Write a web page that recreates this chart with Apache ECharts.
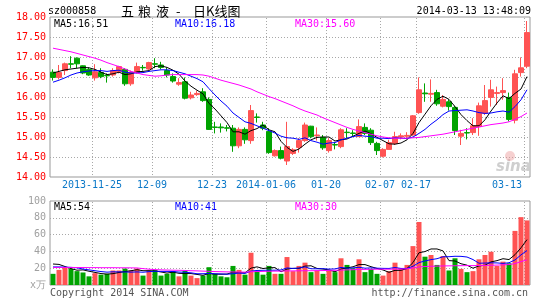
<!DOCTYPE html>
<html><head><meta charset="utf-8">
<script src="https://cdn.jsdelivr.net/npm/echarts@6/dist/echarts.min.js"></script>
<style>html,body{margin:0;padding:0;background:#fff}#c{width:545px;height:300px}</style>
</head><body><div id="c"></div>
<script>
const dates = ['2013-11-14','2013-11-15','2013-11-18','2013-11-19','2013-11-20','2013-11-21','2013-11-22','2013-11-25','2013-11-26','2013-11-27',
'2013-11-28','2013-11-29','2013-12-02','2013-12-03','2013-12-04','2013-12-05','2013-12-06','2013-12-09','2013-12-10','2013-12-11',
'2013-12-12','2013-12-13','2013-12-16','2013-12-17','2013-12-18','2013-12-19','2013-12-20','2013-12-23','2013-12-24','2013-12-25',
'2013-12-26','2013-12-27','2013-12-30','2013-12-31','2014-01-02','2014-01-03','2014-01-06','2014-01-07','2014-01-08','2014-01-09',
'2014-01-10','2014-01-13','2014-01-14','2014-01-15','2014-01-16','2014-01-17','2014-01-20','2014-01-21','2014-01-22','2014-01-23',
'2014-01-24','2014-01-27','2014-01-28','2014-01-29','2014-01-30','2014-02-07','2014-02-10','2014-02-11','2014-02-12','2014-02-13',
'2014-02-14','2014-02-17','2014-02-18','2014-02-19','2014-02-20','2014-02-21','2014-02-24','2014-02-25','2014-02-26','2014-02-27',
'2014-02-28','2014-03-03','2014-03-04','2014-03-05','2014-03-06','2014-03-07','2014-03-10','2014-03-11','2014-03-12','2014-03-13'];

const open = [16.62,16.49,16.66,16.83,16.97,16.78,16.69,16.48,16.61,16.54,16.55,16.63,16.69,16.33,16.62,16.74,16.70,16.83,16.80,16.66,
16.51,16.32,16.38,15.98,16.06,16.13,15.94,15.25,15.25,15.23,15.22,14.78,15.19,14.91,15.50,15.30,15.14,14.53,14.66,14.40,
14.59,14.74,14.91,15.27,15.03,14.99,14.66,14.81,14.76,15.12,15.10,15.01,15.24,15.17,14.84,14.52,14.69,14.84,15.00,15.02,
15.05,15.61,16.10,16.07,16.11,15.77,15.88,15.74,15.02,15.11,15.11,15.26,15.59,15.99,16.09,16.11,15.99,15.42,16.61,16.77];
const close = [16.49,16.61,16.83,16.82,16.83,16.60,16.55,16.63,16.51,16.53,16.66,16.76,16.33,16.62,16.76,16.73,16.86,16.82,16.74,16.55,
16.40,16.36,15.97,16.05,16.09,15.91,15.19,15.24,15.23,15.22,14.78,15.19,14.93,15.66,15.49,15.22,14.61,14.66,14.47,14.76,
14.68,14.91,15.30,15.01,15.05,14.73,14.91,14.80,15.18,15.11,15.09,15.26,15.09,14.86,14.66,14.69,14.86,15.01,15.03,15.04,
15.53,16.18,16.08,16.09,15.83,15.94,15.76,15.16,15.09,15.10,15.28,15.78,15.91,16.18,16.11,16.16,15.44,16.58,16.73,17.61];
const high = [16.69,16.80,16.86,17.02,16.99,16.79,16.74,16.82,16.72,16.59,16.72,16.78,16.72,16.66,16.86,16.80,16.88,16.97,16.88,16.74,
16.59,16.47,16.49,16.13,16.16,16.22,15.99,15.38,15.34,15.30,15.30,15.24,15.24,15.80,15.59,15.38,15.22,14.69,14.76,15.38,
14.72,14.97,15.36,15.28,15.24,15.05,14.97,14.88,15.22,15.22,15.17,15.44,15.34,15.22,14.88,14.72,14.93,15.13,15.09,15.12,
15.55,16.49,16.34,16.44,16.18,16.05,15.94,15.78,15.18,15.22,15.47,15.86,16.30,16.43,16.26,16.47,16.11,16.68,16.99,17.90];
const low = [16.41,16.44,16.55,16.72,16.72,16.57,16.53,16.41,16.47,16.36,16.51,16.59,16.28,16.28,16.59,16.66,16.68,16.72,16.69,16.49,
16.36,16.28,15.94,15.94,16.03,15.88,15.18,15.09,15.11,15.14,14.63,14.72,14.83,14.83,15.36,15.17,14.58,14.51,14.44,14.30,
14.55,14.61,14.88,14.97,14.91,14.68,14.61,14.69,14.72,14.97,15.01,15.00,15.05,14.80,14.55,14.49,14.69,14.80,14.94,14.97,
15.03,15.58,15.88,15.88,15.78,15.74,15.66,15.05,14.80,14.94,15.05,15.03,15.55,15.76,15.80,15.93,15.39,15.34,16.51,16.72];

const ma5 = [16.60,16.64,16.68,16.70,16.72,16.74,16.73,16.69,16.62,16.56,16.58,16.62,16.56,16.58,16.63,16.64,16.66,16.76,16.78,16.74,
16.67,16.57,16.40,16.27,16.17,16.08,15.84,15.70,15.53,15.36,15.13,15.13,15.07,15.16,15.21,15.30,15.18,15.13,14.89,14.74,
14.64,14.70,14.82,14.93,14.99,15.00,15.00,14.90,14.93,14.95,15.02,15.09,15.15,15.08,14.99,14.91,14.83,14.82,14.85,14.93,
15.09,15.36,15.57,15.78,15.94,16.02,15.94,15.76,15.56,15.41,15.28,15.28,15.43,15.65,15.85,16.03,15.96,16.09,16.20,16.51];
const ma10 = [16.37,16.42,16.48,16.55,16.60,16.63,16.65,16.66,16.66,16.64,16.66,16.67,16.62,16.60,16.60,16.61,16.64,16.66,16.68,16.68,
16.66,16.62,16.58,16.52,16.46,16.38,16.21,16.05,15.90,15.77,15.60,15.49,15.38,15.34,15.28,15.22,15.16,15.10,15.02,14.98,
14.97,14.94,14.98,14.91,14.87,14.82,14.85,14.86,14.93,14.97,15.01,15.04,15.02,15.01,14.97,14.97,14.96,14.98,14.97,14.96,
15.00,15.09,15.19,15.32,15.43,15.56,15.65,15.66,15.67,15.68,15.65,15.61,15.59,15.60,15.63,15.65,15.62,15.76,15.93,16.18];
const ma30 = [17.22,17.19,17.16,17.13,17.09,17.05,17.01,16.97,16.92,16.86,16.81,16.76,16.70,16.64,16.60,16.56,16.54,16.52,16.53,16.55,
16.56,16.56,16.56,16.56,16.56,16.55,16.52,16.47,16.42,16.38,16.34,16.30,16.25,16.20,16.13,16.07,16.01,15.96,15.90,15.84,
15.78,15.71,15.65,15.60,15.55,15.48,15.42,15.36,15.30,15.24,15.19,15.15,15.11,15.07,15.03,15.00,14.98,14.97,14.97,14.97,
14.98,14.99,15.01,15.03,15.05,15.07,15.10,15.13,15.16,15.19,15.22,15.25,15.28,15.31,15.33,15.35,15.38,15.44,15.51,15.60];

const volume = [13.3,18,21.2,19.2,16.5,14.9,10.3,14.1,12.3,13.3,17.3,17.3,19.6,17.3,19.6,11.2,17.3,18,11.2,13.3,
16.5,10.3,16.8,11.2,8.2,11.2,21.2,13.3,10.3,9.2,22.7,18,12.3,38.4,16.8,12.3,22.7,13.3,13.3,33.3,
16.5,22.7,26.6,15.3,17.3,13.3,17.3,15.3,31.8,23.9,20,30.6,15.3,19.2,13.3,11.2,16.5,26.6,20,23.9,
46.3,75,33.7,35.7,23.9,34.5,17.3,31.8,19.2,15.3,16.5,30.6,35.7,39.6,22.7,27.8,25.9,64.4,80.8,76.9];
const volMa5 = [25,24.5,22,19.5,17.6,18.0,16.4,15.0,13.6,13.0,13.5,14.9,16.0,17.0,18.2,17.0,17.0,16.7,15.5,14.2,
15.3,13.9,13.6,13.6,12.6,11.5,13.7,13.0,12.8,13.0,15.3,14.7,14.5,20.1,21.6,19.6,20.5,20.7,15.7,19.0,
19.8,19.8,22.5,22.9,19.7,19.0,18.0,15.7,19.0,20.3,21.7,24.3,24.3,21.8,19.7,17.9,15.1,17.4,17.5,19.6,
26.7,38.4,39.8,42.9,42.9,40.6,29.0,28.6,25.3,23.6,20.0,22.7,23.5,27.5,29.0,31.3,30.3,36.1,44.3,54];
const volMa10 = [21.5,21.5,21.3,21.0,20.5,19.0,18.0,17.0,16.0,15.3,15.7,15.6,15.5,15.3,15.6,15.2,15.9,16.3,16.2,16.2,
16.1,15.4,15.2,14.5,13.4,13.4,13.8,13.3,13.2,12.8,13.4,14.2,13.8,16.5,17.3,17.5,17.6,17.6,17.9,20.3,
19.7,20.2,21.6,19.3,19.3,19.4,18.9,19.1,20.9,20.0,20.4,21.1,20.0,20.4,20.0,19.8,19.7,20.8,19.7,19.7,
22.3,26.7,28.6,30.2,31.3,33.6,33.7,34.2,34.1,33.3,30.3,25.9,26.1,26.4,26.3,25.7,26.5,29.8,35.9,41.0];
const volMa30 = [20.8,20.8,20.9,20.9,20.8,20.8,20.7,20.7,20.6,20.6,20.6,20.5,20.5,20.4,20.3,19.5,18.8,18.3,18.0,17.8,
17.6,17.5,17.3,17.0,16.8,16.5,16.3,16.0,15.8,15.6,15.5,15.4,15.3,15.8,16.0,16.2,16.4,16.5,16.5,16.8,
16.8,16.9,17.0,17.0,17.1,17.2,17.4,17.5,17.8,18.0,18.2,18.5,18.6,18.7,18.8,18.8,18.8,18.9,19.0,19.3,
20.2,21.6,22.0,22.3,22.5,22.7,22.8,22.9,23.0,23.1,23.1,23.2,23.3,23.5,23.7,24.0,24.3,25.5,27.8,30.0];

const tickDates = ['2013-11-25','2013-12-09','2013-12-23','2014-01-06','2014-01-20','2014-02-07','2014-02-17','2014-03-13'];
const tickLabels = ['2013-11-25','12-09','12-23','2014-01-06','01-20','02-07','02-17','03-13'];
const priceTicks = [14, 14.5, 15, 15.5, 16, 16.5, 17, 17.5, 18];
const volTicks = [0, 20, 40, 60, 80, 100];

const UP = '#ff5353', DOWN = '#00a300';
const MONO = '"DejaVu Sans Mono", "Liberation Mono", monospace';
const DATE_C = '#0a78c8';
const GRIDC = '#a8a8a8';
const showTick = (idx, v) => tickDates.indexOf(v) >= 0;

const chart = echarts.init(document.getElementById('c'), null, {renderer: 'canvas'});
const lineS = (name, data, color, xi, yi) => ({
  name, type: 'line', data, xAxisIndex: xi, yAxisIndex: yi, symbol: 'none', smooth: false,
  lineStyle: {color, width: 1}, itemStyle: {color}, z: 5, silent: true
});
// dotted vertical grid lines at the left edge of each labelled date's candle (drawn as 1px dots)
const vDots = (xi, yi, y0, y1) => ({
  type: 'custom', xAxisIndex: xi, yAxisIndex: yi, silent: true, z: 1, clip: false,
  data: tickDates.map(d => [dates.indexOf(d), y0]),
  renderItem: function (params, api) {
    const i = api.value(0);
    const a = api.coord([i, y0]);
    const b = api.coord([i, y1]);
    const p = api.coord([i - 1, y0]);
    const x = Math.round(a[0] - (a[0] - p[0]) / 2);
    const top = Math.round(Math.min(a[1], b[1])) + 1, bottom = Math.round(Math.max(a[1], b[1]));
    const children = [];
    for (let y = top; y < bottom; y += 3) {
      children.push({type: 'rect', shape: {x: x, y: y, width: 1, height: 1}, style: {fill: GRIDC}});
    }
    return {type: 'group', children};
  }
});
const txt = (x, y, text, fill, font, align) => ({
  type: 'text', x, y, silent: true,
  style: {text, fill, font, align: align || 'left', verticalAlign: 'middle'}
});

chart.setOption({
  animation: false,
  backgroundColor: '#fff',
  grid: [
    {left: 50, right: 15, top: 17, height: 160, show: true, borderColor: '#999', borderWidth: 1},
    {left: 50, right: 15, top: 201, height: 84, show: true, borderColor: '#999', borderWidth: 1}
  ],
  xAxis: [
    {type: 'category', gridIndex: 0, data: dates, boundaryGap: true,
     axisLine: {show: false}, axisTick: {show: false},
     axisLabel: {interval: showTick, margin: 3, fontFamily: MONO, fontSize: 10, color: DATE_C,
       formatter: v => { const k = tickDates.indexOf(v); if (k < 0) return ''; return (k === tickDates.length - 1 ? '{e|' : '{a|') + tickLabels[k] + '}'; },
       rich: {a: {padding: [0, 6, 0, 0], fontFamily: MONO, fontSize: 10, color: DATE_C},
              e: {padding: [0, 40, 0, 0], fontFamily: MONO, fontSize: 10, color: DATE_C}}},
     splitLine: {show: false}},
    {type: 'category', gridIndex: 1, data: dates, boundaryGap: true,
     axisLine: {show: false}, axisTick: {show: false}, axisLabel: {show: false},
     splitLine: {show: false}}
  ],
  yAxis: [
    {type: 'value', gridIndex: 0, min: priceTicks[0], max: priceTicks[priceTicks.length - 1], interval: 0.5,
     axisLine: {show: false}, axisTick: {show: false},
     axisLabel: {color: '#ff0000', fontFamily: MONO, fontSize: 10, margin: 4, formatter: v => v.toFixed(2)},
     splitLine: {show: true, showMinLine: false, showMaxLine: false, lineStyle: {color: GRIDC, type: [1, 2]}}},
    {type: 'value', gridIndex: 1, min: volTicks[0], max: volTicks[volTicks.length - 1], interval: 20,
     axisLine: {show: false}, axisTick: {show: false},
     axisLabel: {color: '#a0a0a0', fontFamily: MONO, fontSize: 10, margin: 4, formatter: v => v === 0 ? 'x万' : String(v)},
     splitLine: {show: true, showMinLine: false, showMaxLine: false, lineStyle: {color: GRIDC, type: [1, 2]}}}
  ],
  series: [
    vDots(0, 0, priceTicks[0], priceTicks[priceTicks.length - 1]),
    vDots(1, 1, volTicks[0], volTicks[volTicks.length - 1]),
    {name: 'K', type: 'candlestick', xAxisIndex: 0, yAxisIndex: 0, barWidth: 5,
     data: dates.map((d, i) => [open[i], close[i], low[i], high[i]]),
     itemStyle: {color: UP, color0: DOWN, borderColor: UP, borderColor0: DOWN, borderWidth: 1}, z: 3, silent: true},
    lineS('MA5', ma5, '#000000', 0, 0),
    lineS('MA10', ma10, '#0000ff', 0, 0),
    lineS('MA30', ma30, '#ff00ff', 0, 0),
    {name: 'VOL', type: 'bar', xAxisIndex: 1, yAxisIndex: 1, barWidth: 5, z: 3, silent: true,
     data: volume.map((v, i) => ({value: v, itemStyle: {color: close[i] > open[i] ? UP : DOWN}}))},
    lineS('VMA5', volMa5, '#000000', 1, 1),
    lineS('VMA10', volMa10, '#0000ff', 1, 1),
    lineS('VMA30', volMa30, '#ff00ff', 1, 1)
  ],
  graphic: [
    txt(48, 11, 'sz000858', '#000', '10px ' + MONO),
    txt(121, 11, '五', '#000', '13px "Noto Sans CJK SC"'),
    txt(138, 11, '粮', '#000', '13px "Noto Sans CJK SC"'),
    txt(156, 11, '液', '#000', '13px "Noto Sans CJK SC"'),
    txt(176, 11, '-', '#000', '13px "Noto Sans CJK SC"'),
    txt(193, 11, '日K线图', '#000', '13px "Noto Sans CJK SC"'),
    txt(531, 11, '2014-03-13 13:48:09', '#000', '10px ' + MONO, 'right'),
    txt(54, 24, 'MA5:16.51', '#000', '10px ' + MONO),
    txt(175, 24, 'MA10:16.18', '#0000ff', '10px ' + MONO),
    txt(295, 24, 'MA30:15.60', '#ff00ff', '10px ' + MONO),
    txt(54, 207, 'MA5:54', '#000', '10px ' + MONO),
    txt(175, 207, 'MA10:41', '#0000ff', '10px ' + MONO),
    txt(295, 207, 'MA30:30', '#ff00ff', '10px ' + MONO),
    txt(50, 293, 'Copyright 2014 SINA.COM', '#555', '10px ' + MONO),
    txt(528, 293, 'http://finance.sina.com.cn', '#555', '10px ' + MONO, 'right'),
    {type: 'circle', shape: {cx: 510, cy: 156, r: 5}, style: {fill: 'rgba(235,150,150,0.45)'}, silent: true, z: 1},
    txt(496, 167, 'sina', '#cfcfcf', 'italic bold 15px "DejaVu Sans"')
  ]
});
</script>
</body></html>
